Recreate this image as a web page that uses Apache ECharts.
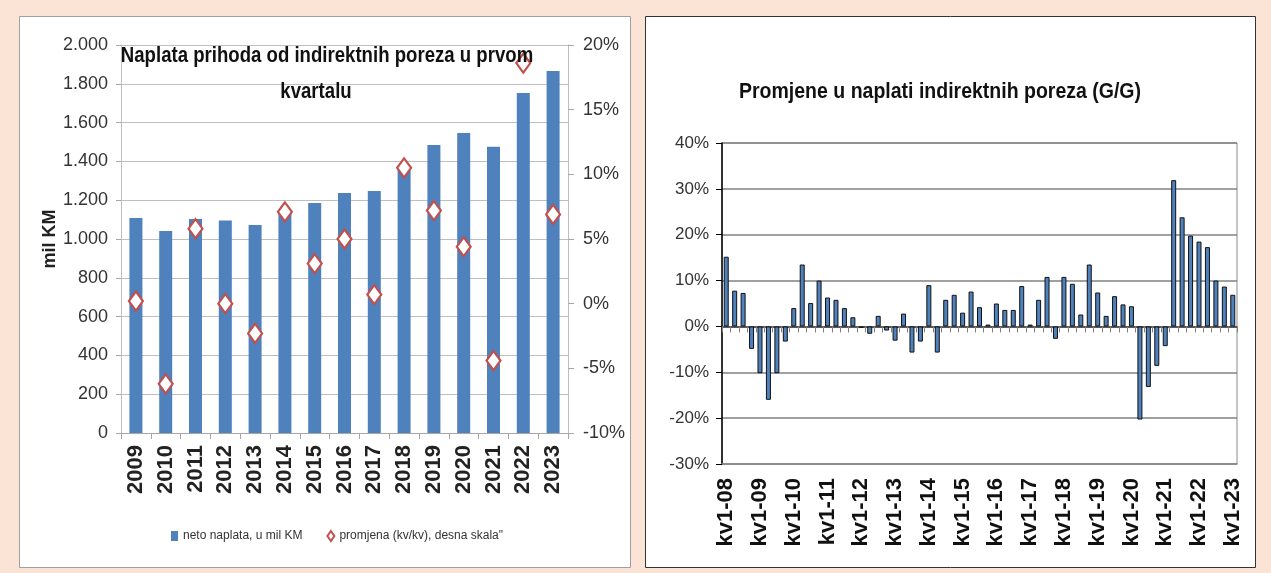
<!DOCTYPE html>
<html>
<head>
<meta charset="utf-8">
<script src="https://cdn.jsdelivr.net/npm/echarts@6/dist/echarts.min.js"></script>
<style>
html,body{margin:0;padding:0;background:#fbe4d5;}
#chart{width:1271px;height:573px;}
</style>
</head>
<body>
<div id="chart"></div>
<script>
// ---- Left chart data ----
const years = ['2009','2010','2011','2012','2013','2014','2015','2016','2017','2018','2019','2020','2021','2022','2023'];
const netCollection = [1108, 1041, 1103, 1095, 1072, 1140, 1186, 1237, 1248, 1362, 1485, 1546, 1476, 1753, 1866];
const yoyChange = [0.2, -6.2, 5.8, 0.0, -2.3, 7.1, 3.1, 5.0, 0.7, 10.5, 7.2, 4.4, -4.4, 18.6, 6.9];

// ---- Right chart data ----
const quarters = [
 'kv1-08','kv2-08','kv3-08','kv4-08','kv1-09','kv2-09','kv3-09','kv4-09',
 'kv1-10','kv2-10','kv3-10','kv4-10','kv1-11','kv2-11','kv3-11','kv4-11',
 'kv1-12','kv2-12','kv3-12','kv4-12','kv1-13','kv2-13','kv3-13','kv4-13',
 'kv1-14','kv2-14','kv3-14','kv4-14','kv1-15','kv2-15','kv3-15','kv4-15',
 'kv1-16','kv2-16','kv3-16','kv4-16','kv1-17','kv2-17','kv3-17','kv4-17',
 'kv1-18','kv2-18','kv3-18','kv4-18','kv1-19','kv2-19','kv3-19','kv4-19',
 'kv1-20','kv2-20','kv3-20','kv4-20','kv1-21','kv2-21','kv3-21','kv4-21',
 'kv1-22','kv2-22','kv3-22','kv4-22','kv1-23'];
const quarterlyChange = [
 15.2, 7.8, 7.3, -4.9, -10.2, -16, -10.2, -3.3, 4, 13.5,
 5.1, 10, 6.3, 5.8, 4, 2, -0.3, -1.6, 2.3, -0.9,
 -3.1, 2.8, -5.7, -3.3, 9, -5.7, 5.8, 6.9, 3, 7.6,
 4.2, 0.4, 5, 3.6, 3.6, 8.8, 0.4, 5.8, 10.8, -2.7,
 10.8, 9.3, 2.6, 13.5, 7.4, 2.3, 6.6, 4.8, 4.4, -20.3,
 -13.2, -8.6, -4.3, 31.9, 23.8, 19.8, 18.5, 17.3, 10, 8.7, 6.9];

const leftTitleLines = ['Naplata prihoda od indirektnih poreza u prvom', 'kvartalu'];
const rightTitle = 'Promjene u naplati indirektnih poreza (G/G)';
const barName = 'neto naplata, u mil KM';
const diamondName = 'promjena (kv/kv), desna skala"';

const ARIAL = "'Liberation Sans',Arial,sans-serif";

function thousands(v){
  if (v >= 1000) return Math.floor(v/1000) + '.' + String(v % 1000).padStart(3,'0');
  return String(v);
}

const chart = echarts.init(document.getElementById('chart'), null, {renderer:'canvas'});
chart.setOption({
  backgroundColor: '#fbe4d5',
  animation: false,
  graphic: [
    {type:'rect', z:-10, shape:{x:19.5,y:16.5,width:611,height:551}, style:{fill:'#ffffff', stroke:'#a0a0a0', lineWidth:1}},
    {type:'rect', z:-10, shape:{x:645.5,y:16.5,width:610,height:551}, style:{fill:'#ffffff', stroke:'#333333', lineWidth:1}},
    {type:'text', z:50, x:327, y:56, scaleX:0.93, scaleY:1.08,
     style:{text:leftTitleLines[0], fontFamily:ARIAL, fontSize:20, fontWeight:'bold', fill:'#111', align:'center', verticalAlign:'middle'}},
    {type:'text', z:50, x:316, y:92, scaleX:0.93, scaleY:1.08,
     style:{text:leftTitleLines[1], fontFamily:ARIAL, fontSize:20, fontWeight:'bold', fill:'#111', align:'center', verticalAlign:'middle'}},
    {type:'text', z:50, x:940, y:92, scaleX:1.0, scaleY:1.1,
     style:{text:rightTitle, fontFamily:ARIAL, fontSize:19.5, fontWeight:'bold', fill:'#111', align:'center', verticalAlign:'middle'}}
  ],
  legend: {
    left: 166, top: 525, itemWidth: 7, itemHeight: 10, itemGap: 24,
    textStyle:{fontFamily: ARIAL, fontSize: 12, color:'#333'},
    data: [
      {name: barName, icon: 'rect'},
      {name: diamondName, icon: 'diamond'}
    ]
  },
  grid: [
    {left: 121, right: 703, top: 45, bottom: 140},
    {left: 722, right: 34, top: 143, bottom: 109, show: true, borderColor:'#8c8c8c', borderWidth: 1}
  ],
  xAxis: [
    {type:'category', gridIndex:0, data: years,
     axisLine:{show:true, lineStyle:{color:'#a6a6a6'}},
     axisTick:{show:true, interval:0, length:6, lineStyle:{color:'#a6a6a6'}},
     axisLabel:{rotate:90, margin:12, interval:0, fontFamily: ARIAL, fontSize:22, fontWeight:'bold', color:'#222'}},
    {type:'category', gridIndex:1, data: quarters,
     axisLine:{show:true, onZero:true, lineStyle:{color:'#404040', width:1.5}},
     axisTick:{show:true, interval:0, length:6, lineStyle:{color:'#7f7f7f'}},
     axisLabel:{show:false}},
    {type:'category', gridIndex:1, data: quarters, position:'bottom',
     axisLine:{show:true, onZero:false, lineStyle:{color:'#8c8c8c', width:1.5}},
     axisTick:{show:false},
     axisLabel:{rotate:90, margin:14, interval:3, fontFamily: ARIAL, fontSize:22, fontWeight:'bold', color:'#111'}}
  ],
  yAxis: [
    {type:'value', gridIndex:0, min:0, max:2000, interval:200,
     name:'mil KM', nameLocation:'middle', nameGap:58, nameRotate:90,
     nameTextStyle:{fontFamily: ARIAL, fontSize:18, fontWeight:'bold', color:'#222'},
     axisLine:{show:true, lineStyle:{color:'#bfbfbf'}},
     axisTick:{show:true, length:5, lineStyle:{color:'#a6a6a6'}},
     axisLabel:{fontFamily: ARIAL, fontSize:18, color:'#333', margin:13, formatter: thousands},
     splitLine:{show:true, lineStyle:{color:'#bfbfbf', width:1}}},
    {type:'value', gridIndex:0, position:'right', min:-10, max:20, interval:5,
     axisLine:{show:true, lineStyle:{color:'#bfbfbf'}},
     axisTick:{show:true, length:6, lineStyle:{color:'#a6a6a6'}},
     axisLabel:{fontFamily: ARIAL, fontSize:18, color:'#333', margin:15, formatter:'{value}%'},
     splitLine:{show:false}},
    {type:'value', gridIndex:1, min:-30, max:40, interval:10,
     axisLine:{show:true, lineStyle:{color:'#000', width:1.5}},
     axisTick:{show:true, length:6, lineStyle:{color:'#000'}},
     axisLabel:{fontFamily: ARIAL, fontSize:17, color:'#333', margin:13, formatter:'{value}%'},
     splitLine:{show:true, lineStyle:{color:'#808080', width:1.5}}}
  ],
  series: [
    {name: barName, type:'bar', xAxisIndex:0, yAxisIndex:0, data: netCollection,
     barWidth: 13, itemStyle:{color:'#4f81bd'}, z:2},
    {name: diamondName, type:'scatter', xAxisIndex:0, yAxisIndex:1, data: yoyChange,
     symbol:'diamond', symbolSize:[14,19],
     itemStyle:{color:'#ffffff', borderColor:'#c0504d', borderWidth:2.2, opacity:1}, z:5},
    {name: 'G/G', type:'bar', xAxisIndex:1, yAxisIndex:2, data: quarterlyChange,
     barWidth: 5, itemStyle:{color:'#4f81bd', borderColor:'#111', borderWidth:1}, z:3}
  ]
});
</script>
</body>
</html>
